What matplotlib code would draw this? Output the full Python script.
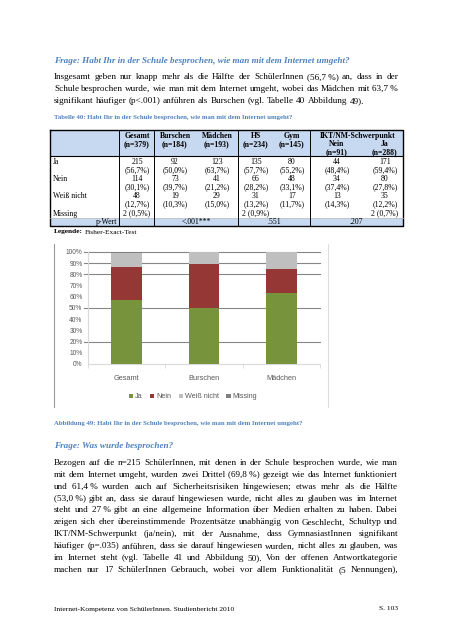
import matplotlib
matplotlib.use('Agg')
import matplotlib.pyplot as plt

# ---- chart data (Abbildung 49) ----
categories = ['Gesamt', 'Burschen', 'Mädchen']
ja = [56.7, 50.0, 63.7]
nein = [30.1, 39.7, 21.2]
weiss_nicht = [12.7, 10.3, 15.0]
missing = [0.5, 0.0, 0.0]
series_names = ['Ja', 'Nein', 'Weiß nicht', 'Missing']
series_colors = ['#77933C', '#953735', '#BFBFBF', '#7F7F7F']
y_ticks = [0, 10, 20, 30, 40, 50, 60, 70, 80, 90, 100]
grid_levels = [20, 50, 80, 90, 100]

# ---- table data (Tabelle 40) ----
col_names = ['Gesamt', 'Burschen', 'Mädchen', 'HS', 'Gym', 'Nein', 'Ja']
col_n = ['(n=379)', '(n=184)', '(n=193)', '(n=234)', '(n=145)', '(n=91)', '(n=288)']
row_labels = ['Ja', 'Nein', 'Weiß nicht']
counts = [
    [215, 92, 123, 135, 80, 44, 171],
    [114, 73, 41, 66, 48, 34, 80],
    [48, 19, 29, 31, 17, 13, 35],
]
percents = [
    ['56,7', '50,0', '63,7', '57,7', '55,2', '48,4', '59,4'],
    ['30,1', '39,7', '21,2', '28,2', '33,1', '37,4', '27,8'],
    ['12,7', '10,3', '15,0', '13,2', '11,7', '14,3', '12,2'],
]
missing_cells = {0: '2 (0,5%)', 3: '2 (0,9%)', 6: '2 (0,7%)'}
p_values = ['<.001***', '.551', '.207']

# ---- page text ('~' = space that is not stretched) ----
heading1 = 'Frage: Habt Ihr in der Schule besprochen, wie man mit dem Internet umgeht?'
para1 = [
    'Insgesamt geben nur knapp mehr als die Hälfte der SchülerInnen (56,7~%) an, dass in der',
    'Schule besprochen wurde, wie man mit dem Internet umgeht, wobei das Mädchen mit 63,7~%',
    'signifikant häufiger (p<.001) anführen als Burschen (vgl. Tabelle 40 Abbildung 49).',
]
table_caption = 'Tabelle 40: Habt Ihr in der Schule besprochen, wie man mit dem Internet umgeht?'
figure_caption = 'Abbildung 49: Habt Ihr in der Schule besprochen, wie man mit dem Internet umgeht?'
heading2 = 'Frage: Was wurde besprochen?'
para2 = [
    'Bezogen auf die n=215 SchülerInnen, mit denen in der Schule besprochen wurde, wie man',
    'mit dem Internet umgeht, wurden zwei Drittel (69,8~%) gezeigt wie das Internet funktioniert',
    'und 61,4~% wurden auch auf Sicherheitsrisiken hingewiesen; etwas mehr als die Hälfte',
    '(53,0~%) gibt an, dass sie darauf hingewiesen wurde, nicht alles zu glauben was im Internet',
    'steht und 27~% gibt an eine allgemeine Information über Medien erhalten zu haben. Dabei',
    'zeigen sich eher übereinstimmende Prozentsätze unabhängig von Geschlecht, Schultyp und',
    'IKT/NM-Schwerpunkt (ja/nein), mit der Ausnahme, dass GymnasiastInnen signifikant',
    'häufiger (p=.035) anführen, dass sie darauf hingewiesen wurden, nicht alles zu glauben, was',
    'im Internet steht (vgl. Tabelle 41 und Abbildung 50). Von der offenen Antwortkategorie',
    'machen nur 17 SchülerInnen Gebrauch, wobei vor allem Funktionalität (5 Nennungen),',
]
footer_left = 'Internet-Kompetenz von SchülerInnen. Studienbericht 2010'
footer_right = 'S. 103'

SERIF = 'Liberation Serif'
SANS = 'Liberation Sans'
BLUE = '#4F81BD'
BODY = 6.6
LEFT, RIGHT = 54, 398

fig = plt.figure(figsize=(4.52, 6.4), dpi=100)
page = fig.add_axes([0, 0, 1, 1])
page.set_xlim(0, 452)
page.set_ylim(640, 0)
page.axis('off')
renderer = fig.canvas.get_renderer()


def text_width(s, **kw):
    t = page.text(0, 0, s, **kw)
    w = t.get_window_extent(renderer).width
    t.remove()
    return w


def justify(line, y, x0=LEFT, x1=RIGHT, stretch=True, **kw):
    words = [w.replace('~', ' ') for w in line.split(' ')]
    texts = [page.text(0, y, w, va='baseline', ha='left', **kw) for w in words]
    widths = [t.get_window_extent(renderer).width for t in texts]
    if stretch:
        gap = (x1 - x0 - sum(widths)) / max(len(words) - 1, 1)
    else:
        gap = text_width('a a', **kw) - text_width('aa', **kw)
    x = x0
    for t, w in zip(texts, widths):
        t.set_x(x)
        x += w + gap


body_kw = dict(family=SERIF, fontsize=BODY, color='black')

# heading + first paragraph
page.text(LEFT, 63, heading1, family=SERIF, fontsize=6.6, style='italic',
          weight='bold', color=BLUE, va='baseline')
for i, line in enumerate(para1):
    justify(line, 79 + i * 12, stretch=(i < len(para1) - 1), **body_kw)

# table
page.text(LEFT, 119, table_caption, family=SERIF, fontsize=4.9, weight='bold',
          color=BLUE, va='baseline')
tx0, tx1, ty0, ty1 = 50, 403, 130, 226
head_bottom, p_top = 156, 218
col_x = [137, 175, 217, 256, 292, 337, 385]
page.fill_between([tx0, tx1], ty0, head_bottom, color='#C6D9F1', lw=0)
page.fill_between([tx0, tx1], p_top, ty1, color='#C6D9F1', lw=0)
page.plot([tx0, tx1, tx1, tx0, tx0], [ty0, ty0, ty1, ty1, ty0], color='black', lw=1.0)
page.plot([tx0, tx1], [head_bottom, head_bottom], color='black', lw=0.8)
page.plot([tx0, tx1], [p_top, p_top], color='#BFBFBF', lw=0.5)
for vx in [119, 154, 238, 310]:
    page.plot([vx, vx], [ty0, ty1], color='black', lw=0.7)

tab_kw = dict(family=SERIF, fontsize=5.6, ha='center', va='center')
for j, (name, n) in enumerate(zip(col_names, col_n)):
    if j < 5:
        page.text(col_x[j], 135.5, name, weight='bold', **tab_kw)
        page.text(col_x[j], 144, n, weight='bold', **tab_kw)
    else:
        page.text(col_x[j], 144, name, weight='bold', **tab_kw)
        page.text(col_x[j], 152.5, n, weight='bold', **tab_kw)
page.text(358, 135.5, 'IKT/NM-Schwerpunkt', weight='bold', **tab_kw)

for i, label in enumerate(row_labels):
    yc = 161.5 + i * 17.3
    page.text(53, yc, label, family=SERIF, fontsize=5.6, va='center')
    for j in range(len(col_names)):
        page.text(col_x[j], yc, str(counts[i][j]), **tab_kw)
        page.text(col_x[j], yc + 8.5, '(' + percents[i][j] + '%)', **tab_kw)
page.text(53, 213.5, 'Missing', family=SERIF, fontsize=5.6, va='center')
for j, txt in missing_cells.items():
    page.text(col_x[j], 213.5, txt, **tab_kw)
page.text(117, 222, 'p-Wert', family=SERIF, fontsize=5.6, ha='right', va='center')
for x, p in zip([196, 274, 356], p_values):
    page.text(x, 222, p, **tab_kw)
leg_lab = page.text(LEFT, 233.5, 'Legende:', family=SERIF, fontsize=5.3,
                    weight='bold', va='baseline')
leg_w = leg_lab.get_window_extent(renderer).width
page.text(LEFT + leg_w + 2, 233.5, 'Fisher-Exact-Test', family=SERIF, fontsize=5.3,
          va='baseline')

# chart frame
page.plot([54, 54], [244, 407], color='#9A9A9A', lw=0.8)
page.plot([328, 328], [244, 407], color='#DDDDDD', lw=0.8)

ax = fig.add_axes([88 / 452, 1 - 364 / 640, 232 / 452, 112 / 640])
x = list(range(len(categories)))
bottom = [0.0] * len(categories)
for vals, name, col in zip([ja, nein, weiss_nicht, missing], series_names, series_colors):
    ax.bar(x, vals, width=0.4, bottom=bottom, color=col, label=name, zorder=3)
    bottom = [b + v for b, v in zip(bottom, vals)]
for g in grid_levels:
    ax.axhline(g, xmin=-4 / 232, xmax=1, color='#868686', lw=0.8, zorder=1, clip_on=False)
ax.set_xlim(-0.5, 2.5)
ax.set_ylim(0, 100)
ax.set_yticks(y_ticks)
ax.set_yticklabels([f'{t}%' for t in y_ticks])
ax.set_xticks(x)
ax.set_xticklabels(categories)
ax.set_xticks([-0.5, 0.5, 1.5, 2.5], minor=True)
ax.tick_params(axis='x', which='major', length=0, pad=8, labelsize=5.3, labelcolor='#595959')
ax.tick_params(axis='x', which='minor', length=3, color='#D9D9D9', direction='out')
ax.tick_params(axis='y', length=0, pad=4, labelsize=4.8, labelcolor='#595959')
for lab in ax.get_xticklabels() + ax.get_yticklabels():
    lab.set_family(SANS)
for s in ['top', 'right']:
    ax.spines[s].set_visible(False)
for s in ['left', 'bottom']:
    ax.spines[s].set_color('#D9D9D9')
    ax.spines[s].set_linewidth(0.8)
ax.legend(loc='center', bbox_to_anchor=(193 / 452, 1 - 397 / 640),
          bbox_transform=fig.transFigure, ncol=4, frameon=False,
          handlelength=0.6, handleheight=0.6, handletextpad=0.3, columnspacing=1.0,
          prop={'family': SANS, 'size': 5.2}, labelcolor='#595959')

page.text(LEFT, 424.5, figure_caption, family=SERIF, fontsize=4.9, weight='bold',
          color=BLUE, va='baseline')

# second section
page.text(LEFT, 448, heading2, family=SERIF, fontsize=6.6, style='italic',
          weight='bold', color=BLUE, va='baseline')
for i, line in enumerate(para2):
    justify(line, 464.7 + i * 11.95, **body_kw)

page.text(LEFT, 610.5, footer_left, family=SERIF, fontsize=5.4, va='baseline')
page.text(RIGHT, 610.5, footer_right, family=SERIF, fontsize=5.4, va='baseline', ha='right')

fig.savefig('out.png', dpi=100)
